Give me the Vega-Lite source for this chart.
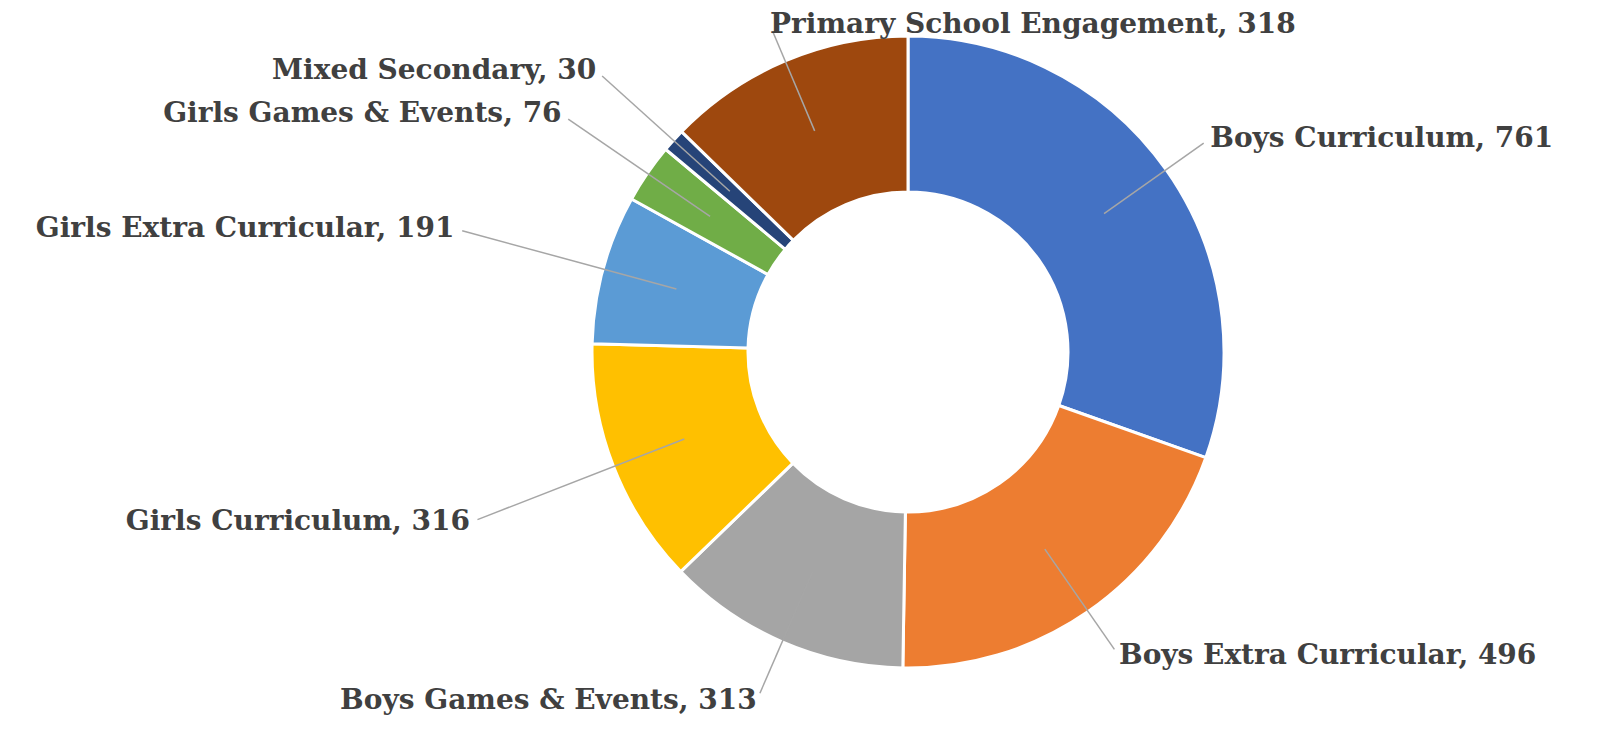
{
  "$schema": "https://vega.github.io/schema/vega-lite/v6.json",
  "width": 1380,
  "height": 704,
  "autosize": "none",
  "padding": {"left": 218, "top": 0, "right": 0, "bottom": 27},
  "background": "white",
  "view": {"stroke": null},
  "data": {
    "values": [
      {"category": "Boys Curriculum", "value": 761, "order": 1},
      {"category": "Boys Extra Curricular", "value": 496, "order": 2},
      {"category": "Boys Games & Events", "value": 313, "order": 3},
      {"category": "Girls Curriculum", "value": 316, "order": 4},
      {"category": "Girls Extra Curricular", "value": 191, "order": 5},
      {"category": "Girls Games & Events", "value": 76, "order": 6},
      {"category": "Mixed Secondary", "value": 30, "order": 7},
      {"category": "Primary School Engagement", "value": 318, "order": 8}
    ]
  },
  "transform": [
    {"stack": "value", "groupby": [], "sort": [{"field": "order", "order": "ascending"}], "as": ["v0", "v1"]},
    {"joinaggregate": [{"op": "sum", "field": "value", "as": "total"}]},
    {"calculate": "(datum.v0 + datum.v1) / 2", "as": "vmid"},
    {"calculate": "2 * PI * datum.vmid / datum.total", "as": "ang"},
    {"calculate": "datum.category + ', ' + datum.value", "as": "label"},
    {"calculate": "240 * sin(datum.ang)", "as": "lx1"},
    {"calculate": "240 * cos(datum.ang)", "as": "ly1"}
  ],
  "layer": [
    {
      "mark": {"type": "arc", "radius": 316, "radius2": 160, "stroke": "white", "strokeWidth": 3},
      "encoding": {
        "theta": {"field": "v1", "type": "quantitative", "scale": {"nice": false, "zero": true}},
        "theta2": {"field": "v0"},
        "color": {
          "field": "category",
          "type": "nominal",
          "legend": null,
          "scale": {
            "domain": ["Boys Curriculum", "Boys Extra Curricular", "Boys Games & Events", "Girls Curriculum", "Girls Extra Curricular", "Girls Games & Events", "Mixed Secondary", "Primary School Engagement"],
            "range": ["#4472C4", "#ED7D31", "#A5A5A5", "#FFC000", "#5B9BD5", "#70AD47", "#264478", "#9E480E"]
          }
        }
      }
    },
    {
      "transform": [
        {"filter": {"field": "category", "oneOf": ["Boys Curriculum", "Boys Extra Curricular"]}},
        {"calculate": "362 * sin(datum.ang)", "as": "lx2"},
        {"calculate": "362 * cos(datum.ang)", "as": "ly2"}
      ],
      "layer": [
        {
          "mark": {"type": "rule", "color": "#A6A6A6", "strokeWidth": 1.5},
          "encoding": {
            "x": {"field": "lx1", "type": "quantitative", "axis": null, "scale": {"domain": [-690, 690], "nice": false, "zero": false}},
            "y": {"field": "ly1", "type": "quantitative", "axis": null, "scale": {"domain": [-352, 352], "nice": false, "zero": false}},
            "x2": {"field": "lx2"},
            "y2": {"field": "ly2"}
          }
        },
        {
          "mark": {"type": "text", "radius": 370, "align": "left", "baseline": "middle", "font": "DejaVu Serif", "fontWeight": "bold", "fontSize": 28, "fill": "#404040"},
          "encoding": {"theta": {"field": "vmid", "type": "quantitative"}, "text": {"field": "label"}}
        }
      ]
    },
    {
      "transform": [
        {"filter": {"field": "category", "oneOf": ["Girls Curriculum", "Girls Extra Curricular"]}},
        {"calculate": "462 * sin(datum.ang)", "as": "lx2"},
        {"calculate": "462 * cos(datum.ang)", "as": "ly2"}
      ],
      "layer": [
        {
          "mark": {"type": "rule", "color": "#A6A6A6", "strokeWidth": 1.5},
          "encoding": {
            "x": {"field": "lx1", "type": "quantitative", "axis": null, "scale": {"domain": [-690, 690], "nice": false, "zero": false}},
            "y": {"field": "ly1", "type": "quantitative", "axis": null, "scale": {"domain": [-352, 352], "nice": false, "zero": false}},
            "x2": {"field": "lx2"},
            "y2": {"field": "ly2"}
          }
        },
        {
          "mark": {"type": "text", "radius": 470, "align": "right", "baseline": "middle", "font": "DejaVu Serif", "fontWeight": "bold", "fontSize": 28, "fill": "#404040"},
          "encoding": {"theta": {"field": "vmid", "type": "quantitative"}, "text": {"field": "label"}}
        }
      ]
    },
    {
      "transform": [
        {"filter": {"field": "category", "oneOf": ["Girls Games & Events", "Mixed Secondary"]}},
        {"calculate": "412 * sin(datum.ang)", "as": "lx2"},
        {"calculate": "412 * cos(datum.ang)", "as": "ly2"}
      ],
      "layer": [
        {
          "mark": {"type": "rule", "color": "#A6A6A6", "strokeWidth": 1.5},
          "encoding": {
            "x": {"field": "lx1", "type": "quantitative", "axis": null, "scale": {"domain": [-690, 690], "nice": false, "zero": false}},
            "y": {"field": "ly1", "type": "quantitative", "axis": null, "scale": {"domain": [-352, 352], "nice": false, "zero": false}},
            "x2": {"field": "lx2"},
            "y2": {"field": "ly2"}
          }
        },
        {
          "mark": {"type": "text", "radius": 420, "align": "right", "baseline": "middle", "font": "DejaVu Serif", "fontWeight": "bold", "fontSize": 28, "fill": "#404040"},
          "encoding": {"theta": {"field": "vmid", "type": "quantitative"}, "text": {"field": "label"}}
        }
      ]
    },
    {
      "transform": [
        {"filter": {"field": "category", "equal": "Boys Games & Events"}},
        {"calculate": "372 * sin(datum.ang)", "as": "lx2"},
        {"calculate": "372 * cos(datum.ang)", "as": "ly2"}
      ],
      "layer": [
        {
          "mark": {"type": "rule", "color": "#A6A6A6", "strokeWidth": 1.5},
          "encoding": {
            "x": {"field": "lx1", "type": "quantitative", "axis": null, "scale": {"domain": [-690, 690], "nice": false, "zero": false}},
            "y": {"field": "ly1", "type": "quantitative", "axis": null, "scale": {"domain": [-352, 352], "nice": false, "zero": false}},
            "x2": {"field": "lx2"},
            "y2": {"field": "ly2"}
          }
        },
        {
          "mark": {"type": "text", "radius": 380, "align": "right", "baseline": "middle", "font": "DejaVu Serif", "fontWeight": "bold", "fontSize": 28, "fill": "#404040"},
          "encoding": {"theta": {"field": "vmid", "type": "quantitative"}, "text": {"field": "label"}}
        }
      ]
    },
    {
      "transform": [
        {"filter": {"field": "category", "equal": "Primary School Engagement"}},
        {"calculate": "347 * sin(datum.ang)", "as": "lx2"},
        {"calculate": "347 * cos(datum.ang)", "as": "ly2"}
      ],
      "layer": [
        {
          "mark": {"type": "rule", "color": "#A6A6A6", "strokeWidth": 1.5},
          "encoding": {
            "x": {"field": "lx1", "type": "quantitative", "axis": null, "scale": {"domain": [-690, 690], "nice": false, "zero": false}},
            "y": {"field": "ly1", "type": "quantitative", "axis": null, "scale": {"domain": [-352, 352], "nice": false, "zero": false}},
            "x2": {"field": "lx2"},
            "y2": {"field": "ly2"}
          }
        },
        {
          "mark": {"type": "text", "radius": 355, "align": "left", "baseline": "middle", "font": "DejaVu Serif", "fontWeight": "bold", "fontSize": 28, "fill": "#404040"},
          "encoding": {"theta": {"field": "vmid", "type": "quantitative"}, "text": {"field": "label"}}
        }
      ]
    }
  ]
}
